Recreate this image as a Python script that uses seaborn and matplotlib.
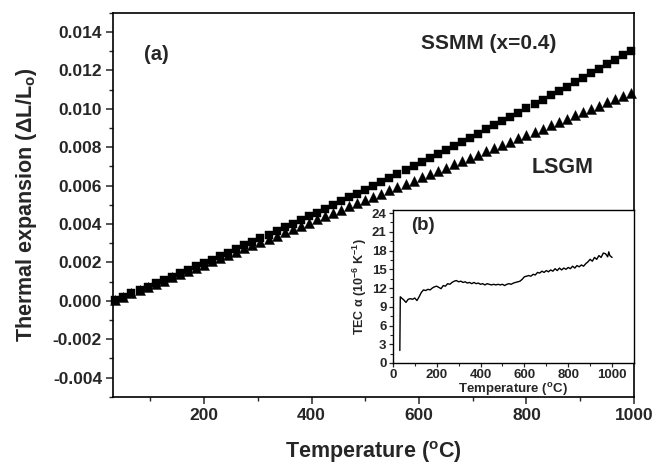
import numpy as np
import pandas as pd
import matplotlib
matplotlib.use("Agg")
import matplotlib.pyplot as plt
import seaborn as sns
from matplotlib.ticker import MultipleLocator, FormatStrFormatter


sns.set_style("ticks")
plt.rcParams["font.family"] = ["Liberation Sans", "DejaVu Sans"]
plt.rcParams["font.weight"] = "bold"
plt.rcParams["axes.unicode_minus"] = False
plt.rcParams["mathtext.fontset"] = "custom"
plt.rcParams["mathtext.rm"] = "Liberation Sans:bold"
plt.rcParams["mathtext.it"] = "Liberation Sans:bold"
plt.rcParams["mathtext.bf"] = "Liberation Sans:bold"
plt.rcParams["mathtext.default"] = "rm"


# dilatometry, main panel (a)
TEMP_C = [35, 50, 65, 80, 95, 110, 125, 140, 155, 170, 185, 200, 215, 230, 245,
          260, 275, 290, 305, 320, 335, 350, 365, 380, 395, 410, 425, 440, 455,
          470, 485, 500, 515, 530, 545, 560, 575, 590, 605, 620, 635, 650, 665,
          680, 695, 710, 725, 740, 755, 770, 785, 800, 815, 830, 845, 860, 875,
          890, 905, 920, 935, 950, 965, 980, 995]

# dL/L0 in units of 1e-3
SSMM_DL = [0.056, 0.225, 0.395, 0.566, 0.738, 0.911, 1.085, 1.261, 1.437, 1.615,
           1.793, 1.973, 2.153, 2.335, 2.518, 2.702, 2.887, 3.073, 3.260, 3.448,
           3.637, 3.827, 4.019, 4.211, 4.404, 4.599, 4.795, 4.991, 5.189, 5.388,
           5.588, 5.789, 5.991, 6.194, 6.398, 6.603, 6.809, 7.017, 7.225, 7.435,
           7.645, 7.857, 8.070, 8.283, 8.498, 8.714, 8.931, 9.149, 9.368, 9.589,
           9.810, 10.032, 10.256, 10.480, 10.706, 10.932, 11.160, 11.389, 11.618,
           11.849, 12.081, 12.314, 12.548, 12.783, 13.020]

LSGM_DL = [0.056, 0.222, 0.389, 0.556, 0.723, 0.890, 1.058, 1.225, 1.392, 1.559,
           1.727, 1.894, 2.061, 2.229, 2.397, 2.564, 2.732, 2.900, 3.067, 3.235,
           3.403, 3.571, 3.739, 3.907, 4.075, 4.244, 4.412, 4.580, 4.749, 4.917,
           5.086, 5.254, 5.423, 5.591, 5.760, 5.929, 6.097, 6.266, 6.435, 6.604,
           6.773, 6.942, 7.111, 7.281, 7.450, 7.619, 7.789, 7.958, 8.128, 8.297,
           8.467, 8.637, 8.806, 8.976, 9.146, 9.316, 9.486, 9.656, 9.826, 9.996,
           10.166, 10.336, 10.506, 10.677, 10.847]

# inset (b): TEC in 1e-6 K^-1
TEC_T = [32, 34, 40, 50, 60, 70, 80, 90, 100, 110, 120, 130, 140, 150, 160, 170,
         180, 190, 200, 210, 220, 230, 240, 250, 260, 270, 280, 290, 300, 310,
         320, 330, 340, 350, 360, 370, 380, 390, 400, 410, 420, 430, 440, 450,
         460, 470, 480, 490, 500, 510, 520, 530, 540, 550, 560, 570, 580, 590,
         600, 610, 620, 630, 640, 650, 660, 670, 680, 690, 700, 710, 720, 730,
         740, 750, 760, 770, 780, 790, 800, 810, 820, 830, 840, 850, 860, 870,
         880, 890, 900, 910, 920, 930, 940, 950, 960, 970, 980, 985, 990, 1000]
TEC_VAL = [2.0, 10.6, 10.4, 10.1, 9.7, 10.2, 10.3, 10.2, 10.4, 10.0, 10.6, 11.3,
           11.7, 11.6, 11.8, 11.7, 12.0, 12.2, 12.3, 12.1, 11.9, 12.4, 12.3, 12.7,
           12.6, 12.9, 13.1, 13.2, 13.0, 13.1, 12.9, 13.0, 12.8, 12.9, 12.7, 12.9,
           12.7, 12.8, 12.6, 12.7, 12.5, 12.7, 12.6, 12.5, 12.6, 12.5, 12.6, 12.5,
           12.6, 12.4, 12.6, 12.7, 12.6, 12.8, 12.9, 13.0, 13.1, 13.4, 13.8, 13.9,
           14.0, 13.9, 14.2, 14.1, 14.5, 14.4, 14.7, 14.5, 14.8, 14.6, 14.9, 14.7,
           15.1, 14.8, 15.2, 14.9, 15.2, 15.0, 15.3, 15.1, 15.5, 15.2, 15.6, 15.4,
           15.7, 15.5, 15.9, 16.2, 16.6, 16.3, 16.9, 16.6, 17.2, 16.9, 17.6, 17.5,
           17.0, 17.8, 17.2, 16.9]


def style_axes(ax, lw):
    for side in ["top", "right", "bottom", "left"]:
        ax.spines[side].set_visible(True)
        ax.spines[side].set_linewidth(lw)
        ax.spines[side].set_color("black")


df = pd.DataFrame({
    "T": TEMP_C,
    "SSMM": np.array(SSMM_DL) * 1e-3,
    "LSGM": np.array(LSGM_DL) * 1e-3,
})
df_tec = pd.DataFrame({"T": TEC_T, "TEC": TEC_VAL})

fig = plt.figure(figsize=(6.58, 4.68), dpi=100)
ax = fig.add_axes([0.172, 0.152, 0.7915, 0.8205])

sns.scatterplot(data=df, x="T", y="SSMM", marker="s", s=38, color="black",
                edgecolor="black", linewidth=0.3, ax=ax, zorder=3, clip_on=False)
sns.scatterplot(data=df, x="T", y="LSGM", marker="^", s=52, color="black",
                edgecolor="black", linewidth=0.3, ax=ax, zorder=3, clip_on=False)

ax.set_xlim(31, 1000)
ax.set_ylim(-0.005, 0.015)
ax.xaxis.set_major_locator(MultipleLocator(200))
ax.xaxis.set_minor_locator(MultipleLocator(100))
ax.yaxis.set_major_locator(MultipleLocator(0.002))
ax.yaxis.set_minor_locator(MultipleLocator(0.001))
ax.yaxis.set_major_formatter(FormatStrFormatter("%.3f"))
ax.tick_params(which="major", direction="out", length=5, width=1.1,
               labelsize=12.5, pad=3)
ax.tick_params(which="minor", direction="out", length=3, width=1.0)
style_axes(ax, 1.2)
for lab in ax.get_xticklabels() + ax.get_yticklabels():
    lab.set_fontweight("bold")

ax.set_xlabel("Temperature ($^{o}$C)", fontsize=15.5, fontweight="bold",
              labelpad=12)
ax.set_ylabel("Thermal expansion ($\\Delta$L/L$_{o}$)", fontsize=15.5,
              fontweight="bold", labelpad=10)

ax.text(111, 0.01285, "(a)", fontsize=14.5, fontweight="bold",
        ha="center", va="center")
ax.text(730, 0.01342, "SSMM (x=0.4)", fontsize=15, fontweight="bold",
        ha="center", va="center")
ax.text(868, 0.00695, "LSGM", fontsize=15.5, fontweight="bold",
        ha="center", va="center")

# inset (b)
ins = fig.add_axes([0.597, 0.2244, 0.3665, 0.3269])
ins.set_facecolor("white")
sns.lineplot(data=df_tec, x="T", y="TEC", color="black", linewidth=1.0, ax=ins)
ins.set_xlim(0, 1100)
ins.set_ylim(0, 24.5)
ins.xaxis.set_major_locator(MultipleLocator(200))
ins.xaxis.set_minor_locator(MultipleLocator(100))
ins.yaxis.set_major_locator(MultipleLocator(3))
ins.yaxis.set_minor_locator(MultipleLocator(1.5))
ins.tick_params(which="major", direction="out", length=3, width=0.9,
                labelsize=9.5, pad=1.5)
ins.tick_params(which="minor", direction="out", length=2, width=0.8)
style_axes(ins, 1.0)
for lab in ins.get_xticklabels() + ins.get_yticklabels():
    lab.set_fontweight("bold")
ins.set_xlabel("Temperature ($^{o}$C)", fontsize=9.5, fontweight="bold",
               labelpad=0)
ins.set_ylabel("TEC α (10$^{-6}$ K$^{-1}$)", fontsize=9, fontweight="bold",
               labelpad=2)
ins.text(136, 22.0, "(b)", fontsize=13.5, fontweight="bold",
         ha="center", va="center")

fig.savefig("out.png", dpi=100)
